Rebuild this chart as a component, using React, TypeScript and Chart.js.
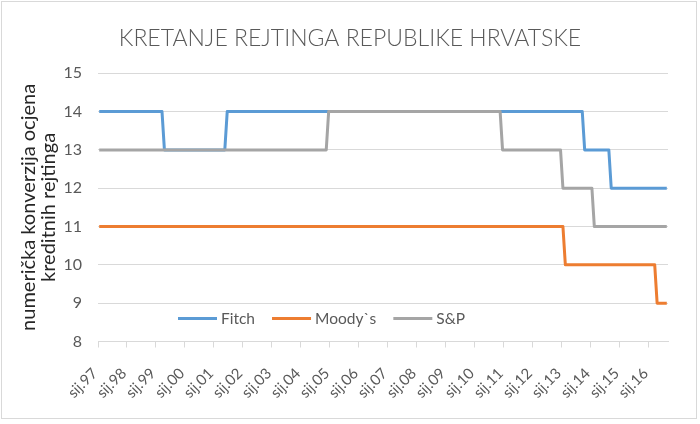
import React, { useEffect, useRef } from 'react';
import { Chart, registerables } from 'chart.js';

Chart.register(...registerables);

const FONT = 'Lato, "Open Sans", sans-serif';

const chartTitle = 'KRETANJE REJTINGA REPUBLIKE HRVATSKE';
const yAxisTitle = ['numerička konverzija ocjena', 'kreditnih rejtinga'];
const firstMonth = '1997-01';
const lastMonth = '2016-08';
const yearTickLabels = [
  'sij.97', 'sij.98', 'sij.99', 'sij.00', 'sij.01', 'sij.02', 'sij.03', 'sij.04', 'sij.05', 'sij.06',
  'sij.07', 'sij.08', 'sij.09', 'sij.10', 'sij.11', 'sij.12', 'sij.13', 'sij.14', 'sij.15', 'sij.16',
];
const seriesNames = ['Fitch', 'Moody`s', 'S&P'];
const seriesColors = ['#5B9BD5', '#ED7D31', '#A5A5A5'];
const seriesDrawOrder = [3, 2, 1]; // S&P is drawn on top of Fitch

// Rating levels at the months where they change (value holds between listed months)
const fitchMonths = ['1997-01', '1999-03', '1999-04', '2001-05', '2001-06', '2013-09', '2013-10', '2014-08', '2014-09', '2016-08'];
const fitchRatings = [14, 14, 13, 13, 14, 14, 13, 13, 12, 12];
const moodysMonths = ['1997-01', '2013-01', '2013-02', '2016-03', '2016-04', '2016-08'];
const moodysRatings = [11, 11, 10, 10, 9, 9];
const spMonths = ['1997-01', '2004-11', '2004-12', '2010-11', '2010-12', '2012-12', '2013-01', '2014-01', '2014-02', '2016-08'];
const spRatings = [13, 13, 14, 14, 13, 13, 12, 12, 11, 11];

const monthIndex = (s: string) => {
  const [y, m] = s.split('-').map(Number);
  const [y0, m0] = firstMonth.split('-').map(Number);
  return (y - y0) * 12 + (m - m0);
};

const toPoints = (months: string[], values: number[]) =>
  months.map((m, i) => ({ x: monthIndex(m), y: values[i] }));

const pageTitle = {
  id: 'pageTitle',
  afterDraw(chart: any) {
    const { ctx, width } = chart;
    ctx.save();
    ctx.font = `300 23px ${FONT}`;
    ctx.fillStyle = '#595959';
    ctx.textAlign = 'center';
    ctx.textBaseline = 'middle';
    ctx.fillText(chartTitle, width / 2, 39);
    ctx.restore();
  },
};

const overlayLegend = {
  id: 'overlayLegend',
  afterDraw(chart: any) {
    const { ctx, chartArea } = chart;
    ctx.save();
    ctx.font = `15.5px ${FONT}`;
    ctx.textBaseline = 'middle';
    ctx.textAlign = 'left';
    let x = chartArea.left + 80;
    const y = chartArea.bottom - 23;
    chart.data.datasets.forEach((ds: any) => {
      ctx.strokeStyle = ds.borderColor;
      ctx.lineWidth = 3;
      ctx.beginPath();
      ctx.moveTo(x, y);
      ctx.lineTo(x + 39, y);
      ctx.stroke();
      x += 43;
      ctx.fillStyle = '#595959';
      ctx.fillText(ds.label, x, y);
      x += ctx.measureText(ds.label).width + 17;
    });
    ctx.restore();
  },
};

export default function App() {
  const ref = useRef<HTMLCanvasElement>(null);

  useEffect(() => {
    if (!ref.current) return;
    const seriesData = [
      toPoints(fitchMonths, fitchRatings),
      toPoints(moodysMonths, moodysRatings),
      toPoints(spMonths, spRatings),
    ];
    const chart = new Chart(ref.current, {
      type: 'line',
      data: {
        datasets: seriesNames.map((name, i) => ({
          label: name,
          data: seriesData[i],
          order: seriesDrawOrder[i],
          borderColor: seriesColors[i],
          backgroundColor: seriesColors[i],
          borderWidth: 3,
          pointRadius: 0,
          tension: 0,
          fill: false,
          borderJoinStyle: 'round' as const,
        })),
      },
      options: {
        animation: false,
        responsive: false,
        layout: { padding: { left: 0, right: 32, top: 73.3, bottom: 0 } },
        plugins: {
          legend: { display: false },
          tooltip: { enabled: false },
          title: { display: false },
        },
        scales: {
          x: {
            type: 'linear',
            min: -0.5,
            max: monthIndex(lastMonth) + 0.5,
            bounds: 'data',
            afterBuildTicks: (scale: any) => {
              scale.ticks = yearTickLabels.map((_, i) => ({ value: i * 12 - 0.5 }));
            },
            afterFit: (scale: any) => {
              scale.height = 82.5;
            },
            ticks: {
              autoSkip: false,
              minRotation: 45,
              maxRotation: 45,
              padding: 17,
              labelOffset: -3,
              color: '#595959',
              font: { family: FONT, size: 15 },
              callback: (_v: any, i: number) => yearTickLabels[i],
            },
            grid: { drawOnChartArea: false, color: '#d9d9d9', tickLength: 6 },
            border: { display: true, color: '#d9d9d9' },
          },
          y: {
            min: 8,
            max: 15,
            ticks: { stepSize: 1, padding: 16, color: '#595959', font: { family: FONT, size: 16 } },
            grid: { color: '#d9d9d9', drawTicks: false },
            border: { display: false },
            title: {
              display: true,
              text: yAxisTitle,
              color: '#262626',
              font: { family: FONT, size: 20, lineHeight: 1.0 },
              padding: { top: 19, bottom: 0 },
            },
            afterFit: (scale: any) => {
              scale.width = 98;
            },
          },
        },
      },
      plugins: [overlayLegend, pageTitle],
    });
    return () => chart.destroy();
  }, []);

  return (
    <div style={{ position: 'fixed', left: 0, top: 0, width: 700, height: 424, background: '#fff' }}>
      <canvas ref={ref} width={700} height={424} style={{ display: 'block', width: 700, height: 424 }} />
      <div
        style={{
          position: 'absolute',
          left: 1,
          top: 1,
          width: 696,
          height: 418,
          border: '1px solid #d9d9d9',
          boxSizing: 'border-box',
          pointerEvents: 'none',
        }}
      />
    </div>
  );
}
